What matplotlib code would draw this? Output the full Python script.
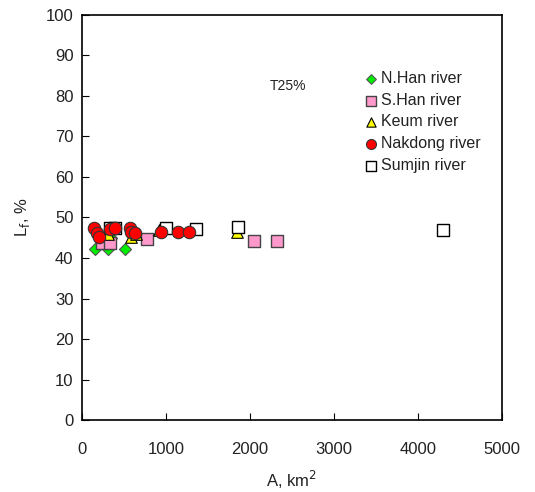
import matplotlib
matplotlib.use("Agg")
import matplotlib.pyplot as plt

plt.rcParams['font.family'] = ['Liberation Sans', 'DejaVu Sans']

# N.Han river
nhan_a = [160, 310, 350, 510]
nhan_l = [42.3, 42.3, 45.0, 42.3]
# S.Han river
shan_a = [240, 330, 770, 2050, 2320]
shan_l = [43.7, 43.7, 44.6, 44.2, 44.2]
# Keum river
keum_a = [310, 590, 640, 920, 1850]
keum_l = [46.0, 45.2, 46.0, 47.0, 46.4]
# Nakdong river
nak_a = [142, 178, 200, 330, 390, 570, 590, 630, 940, 1150, 1270]
nak_l = [47.4, 46.2, 45.2, 47.2, 47.4, 47.4, 46.4, 46.2, 46.4, 46.4, 46.4]
# Sumjin river
sum_a = [330, 400, 1000, 1360, 1860, 4300]
sum_l = [47.4, 47.4, 47.4, 47.2, 47.7, 47.0]

fig = plt.figure(figsize=(5.35, 4.92), dpi=100)
ax = fig.add_axes([0.153, 0.146, 0.785, 0.824])

ax.scatter(nhan_a, nhan_l, marker='D', s=38, c='#00ee00', edgecolors='#555555', linewidths=0.8, label='N.Han river', zorder=3)
ax.scatter(shan_a, shan_l, marker='s', s=80, c='#ff99cc', edgecolors='#444444', linewidths=1.0, label='S.Han river', zorder=3)
ax.scatter(keum_a, keum_l, marker='^', s=70, c='#ffff00', edgecolors='black', linewidths=0.8, label='Keum river', zorder=3)
ax.scatter(nak_a, nak_l, marker='o', s=80, c='#ff0000', edgecolors='#333333', linewidths=0.8, label='Nakdong river', zorder=4)
ax.scatter(sum_a, sum_l, marker='s', s=80, c='white', edgecolors='black', linewidths=1.0, label='Sumjin river', zorder=3)

ax.set_xlim(0, 5000)
ax.set_ylim(0, 100)
ax.set_xticks(range(0, 5001, 1000))
ax.set_yticks(range(0, 101, 10))
ax.tick_params(direction='in', length=5, labelsize=12, labelcolor='#222222')
ax.tick_params(axis='x', pad=16)
ax.tick_params(axis='y', pad=6)
for s in ax.spines.values():
    s.set_linewidth(1.2)

ax.set_xlabel('A, km$^2$', fontsize=12, labelpad=8, color='#222222')
ax.set_ylabel('L$_{\\rm f}$, %', fontsize=12, labelpad=10, color='#222222')

ax.text(2450, 82.5, 'T25%', fontsize=10, ha='center', va='center', color='#222222')

leg = ax.legend(loc='upper left', bbox_to_anchor=(0.645, 0.877), frameon=False,
                fontsize=11.5, handletextpad=-0.1, labelspacing=0.42, borderaxespad=0,
                markerscale=0.8, handlelength=1.5)
for t in leg.get_texts():
    t.set_color('#222222')

fig.savefig('out.png', dpi=100)
